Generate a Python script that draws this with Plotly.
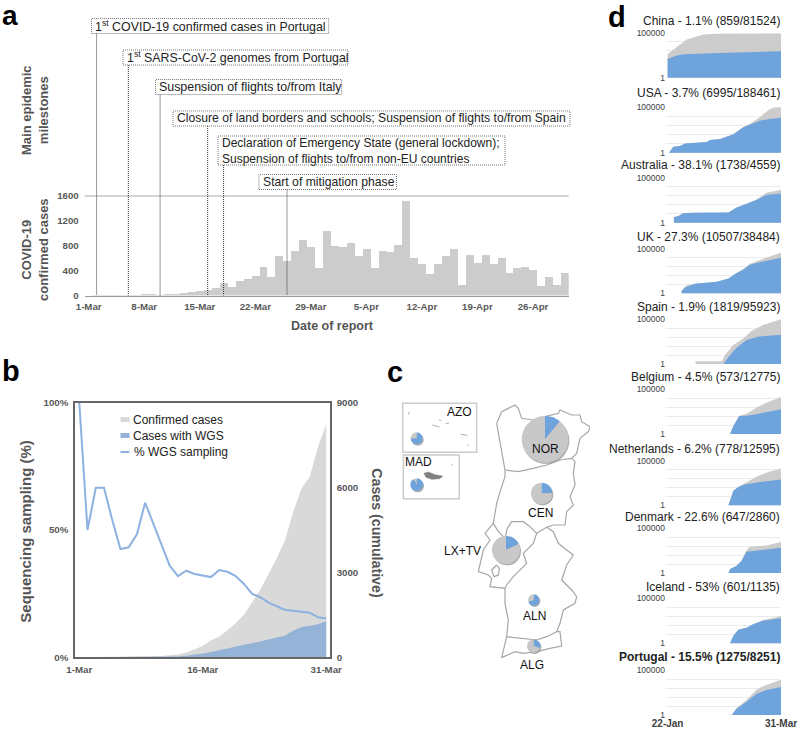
import pandas as pd
import plotly.graph_objects as go

W, H = 800, 729
FONT = "Liberation Sans"

# ---------- panel a ----------
daily_dates = pd.date_range("2020-03-01", "2020-04-30").strftime("%Y-%m-%d").tolist()
daily_cases = [0, 2, 2, 1, 3, 4, 8, 9, 9, 2, 18, 16, 37, 59, 80, 85, 117, 197, 144, 240, 260, 320,
               464, 304, 635, 550, 722, 898, 786, 444, 1032, 802, 775, 845, 636, 749, 449, 711,
               695, 813, 1516, 598, 508, 342, 508, 642, 749, 176, 658, 519, 652, 508, 600, 364,
               438, 465, 406, 155, 294, 176, 364]
a_ticks = ["2020-03-01", "2020-03-08", "2020-03-15", "2020-03-22", "2020-03-29",
           "2020-04-05", "2020-04-12", "2020-04-19", "2020-04-26"]
a_tick_text = ["1-Mar", "8-Mar", "15-Mar", "22-Mar", "29-Mar", "5-Apr", "12-Apr", "19-Apr", "26-Apr"]
milestone_dates = ["2020-03-02", "2020-03-06", "2020-03-10", "2020-03-16", "2020-03-18", "2020-03-26"]
milestone_text = ["1<sup>st</sup> COVID-19 confirmed cases in Portugal",
                  "1<sup>st</sup> SARS-CoV-2 genomes from Portugal",
                  "Suspension of flights to/from Italy",
                  "Closure of land borders and schools; Suspension of flights to/from Spain",
                  "Declaration of Emergency State (general lockdown);<br>Suspension of flights to/from non-EU countries",
                  "Start of mitigation phase"]
milestone_size = [12.4, 12.4, 12.4, 12.15, 12, 12.2]
milestone_box_left = [91.5, 123, 155.5, 173, 218, 259]
milestone_box_right = [328.7, 348, 341.7, 570, 505, 396.5]
milestone_box_top = [18.5, 50, 79.5, 111, 136, 174.5]
milestone_box_bottom = [33.5, 65, 94.5, 126, 165, 189.5]

# ---------- panel b ----------
march_dates = pd.date_range("2020-03-01", "2020-03-31").strftime("%Y-%m-%d").tolist()
confirmed_cum = [0, 2, 4, 5, 8, 13, 21, 30, 39, 41, 50, 70, 100, 170, 280, 400, 600, 730, 960,
                 1200, 1500, 1950, 2400, 2950, 3500, 4150, 5150, 5970, 6385, 7440, 8251]
wgs_cum = [0, 1, 2, 3, 4, 5, 6, 8, 10, 12, 14, 20, 30, 55, 90, 130, 190, 250, 320, 390, 440,
           500, 560, 630, 700, 770, 950, 1075, 1115, 1170, 1275]
wgs_pct = [100, 50, 66.6, 66.6, 54, 42.5, 43.2, 48.3, 60.7, 52.6, 44, 35.9, 31.9, 34, 32.7, 32.2,
           31.5, 34.3, 33.6, 31.9, 28.8, 24.9, 23.6, 21.5, 20.2, 18.6, 18.3, 18, 17.5, 15.7, 15.2]

# ---------- panel c ----------
region_names = ["NOR", "CEN", "LX+TV", "ALN", "ALG", "AZO", "MAD"]
region_blue = [11, 25, 18, 70, 30, 75, 93]
region_grey = [89, 75, 82, 30, 70, 25, 7]
pie_cx = [465, 455, 348, 431, 431, 80, 80]
pie_cy = [148, 310, 480, 630, 768, 145, 284]
pie_r = [70, 32, 42, 17, 20, 18, 19]
label_x = [466, 450, 218, 433, 427, 210, 85]
label_y = [178, 370, 482, 677, 825, 65, 217]
outline_x = [320, 335, 375, 385, 395, 430, 465, 505, 510, 545, 570, 575, 600, 595, 570, 560, 545, 555,
             550, 555, 540, 550, 530, 525, 490, 470, 490, 505, 530, 550, 530, 515, 545, 560, 555, 520,
             510, 500, 510, 515, 480, 440, 400, 375, 335, 345, 350, 355, 345, 345, 300, 305, 295, 265,
             280, 300, 285, 310, 320, 335, 345, 345, 335, 320]
outline_y = [100, 65, 45, 55, 85, 90, 80, 70, 60, 75, 75, 95, 110, 125, 145, 190, 205, 215,
             250, 285, 320, 345, 365, 405, 405, 412, 425, 460, 480, 495, 525, 570, 600, 620, 640, 660,
             700, 725, 725, 768, 775, 785, 790, 785, 803, 765, 740, 690, 640, 595, 590, 565, 555, 545,
             480, 450, 430, 400, 340, 290, 260, 240, 180, 100]
nor_cen_x = [345, 385, 430, 470, 510, 545]
nor_cen_y = [240, 245, 235, 225, 210, 205]
lx_north_x = [310, 325, 345, 352, 365, 400, 420, 440, 430, 400, 410, 370, 350, 345]
lx_north_y = [400, 425, 445, 415, 395, 395, 410, 430, 460, 490, 520, 560, 585, 595]
aln_north_x = [440, 470]
aln_north_y = [430, 412]
alg_north_x = [350, 400, 440, 470, 500]
alg_north_y = [740, 745, 750, 740, 725]
estuary_x = [320, 305, 312, 325, 328, 320]
estuary_y = [525, 540, 560, 555, 535, 525]
madeira_x = [102, 115, 135, 158, 150, 125, 108, 102]
madeira_y = [250, 246, 254, 258, 266, 268, 262, 250]
azores_x = [[55, 58], [127, 148], [147, 153], [167, 177], [212, 232], [231, 236], [184, 190]]
azores_y = [[74, 66], [105, 111], [90, 92], [101, 99], [133, 136], [165, 166], [227, 221]]

# ---------- panel d ----------
china_t_d = [0, 5.5, 11.6, 21.7, 30, 69]
china_t = [427, 2770, 18000, 65000, 78000, 81524]
china_s_d = [0, 4.5, 9.5, 19.7, 32, 69]
china_s = [118, 250, 400, 500, 550, 859]
usa_t_d = [0.8, 3.5, 7.5, 10.6, 23.7, 25.8, 32, 40, 46, 50, 56, 62, 69]
usa_t = [1, 4.6, 5.5, 10, 15, 25, 32, 105, 620, 1450, 8000, 60000, 188461]
usa_s_d = [0.8, 3.5, 7.5, 10.6, 23.7, 25.8, 32, 40, 46, 50, 56, 62, 69]
usa_s = [1, 4.6, 5.5, 10, 15, 25, 32, 105, 620, 1250, 3400, 5150, 6995]
aus_t_d = [3.8, 3.8, 6.5, 9.5, 15.6, 37, 42, 48, 54, 60, 69]
aus_t = [1, 4, 5.5, 11, 13, 14, 50, 118, 380, 2150, 4559]
aus_s_d = [3.8, 3.8, 6.5, 9.5, 15.6, 37, 42, 48, 54, 60, 69]
aus_s = [1, 4, 5.5, 11, 13, 14, 50, 118, 330, 1180, 1738]
uk_t_d = [8.5, 8.5, 11, 16.6, 30, 37, 42, 46, 50, 56, 62, 69]
uk_t = [1, 1.8, 7, 12, 20, 47, 200, 550, 2150, 6000, 14000, 38484]
uk_s_d = [8.5, 8.5, 11, 16.6, 30, 37, 42, 46, 50, 56, 69]
uk_s = [1, 1.8, 5, 12, 20, 47, 200, 470, 1660, 3200, 10507]
spain_t_d = [17, 17, 33, 34.9, 40, 46, 51, 58, 69]
spain_t = [1, 2, 2, 10, 130, 700, 4600, 21000, 95923]
spain_s_d = [34, 37, 42, 48, 55, 69]
spain_s = [1, 6, 63, 470, 1100, 1819]
bel_t_d = [38, 40, 43.6, 48, 54, 60, 69]
bel_t = [1, 7.8, 105, 180, 850, 3000, 12775]
bel_s_d = [38, 40, 43.6, 48, 54, 69]
bel_s = [1, 7.8, 100, 110, 160, 573]
nld_t_d = [37, 38.8, 40, 43, 46, 54, 62, 69]
nld_t = [1, 9, 43, 110, 230, 1550, 6000, 12595]
nld_s_d = [37, 38.8, 40, 43, 46, 54, 62, 69]
nld_s = [1, 9, 43, 110, 200, 360, 600, 778]
dnk_t_d = [37, 38, 42, 45, 48, 50, 60, 69]
dnk_t = [1, 2.8, 6.5, 23, 360, 850, 1180, 2860]
dnk_s_d = [37, 38, 42, 45, 48, 60, 69]
dnk_s = [1, 2.8, 6.5, 23, 235, 390, 647]
isl_t_d = [38, 40, 43, 48, 52, 58, 64, 69]
isl_t = [1, 7, 33, 55, 127, 390, 650, 1135]
isl_s_d = [38, 40, 43, 48, 52, 58, 69]
isl_s = [1, 7, 33, 55, 127, 330, 601]
prt_t_d = [39, 42, 48, 54, 58, 64, 69]
prt_t = [1, 6, 47, 600, 1600, 4000, 8251]
prt_s_d = [39, 42, 48, 54, 60, 69]
prt_s = [1, 5, 30, 215, 600, 1275]

country_titles = ["China - 1.1% (859/81524)", "USA - 3.7% (6995/188461)", "Australia - 38.1% (1738/4559)",
                  "UK - 27.3% (10507/38484)", "Spain - 1.9% (1819/95923)", "Belgium - 4.5% (573/12775)",
                  "Netherlands - 6.2% (778/12595)", "Denmark - 22.6% (647/2860)", "Iceland - 53% (601/1135)",
                  "<b>Portugal - 15.5% (1275/8251)</b>"]
country_total = [(china_t_d, china_t), (usa_t_d, usa_t), (aus_t_d, aus_t), (uk_t_d, uk_t), (spain_t_d, spain_t),
                 (bel_t_d, bel_t), (nld_t_d, nld_t), (dnk_t_d, dnk_t), (isl_t_d, isl_t), (prt_t_d, prt_t)]
country_seq = [(china_s_d, china_s), (usa_s_d, usa_s), (aus_s_d, aus_s), (uk_s_d, uk_s), (spain_s_d, spain_s),
               (bel_s_d, bel_s), (nld_s_d, nld_s), (dnk_s_d, dnk_s), (isl_s_d, isl_s), (prt_s_d, prt_s)]
d_top = [32.7, 107.3, 177.7, 249, 319, 389, 460.7, 528.3, 598.3, 670]
d_bottom = [77.7, 152.7, 222.7, 293.3, 364, 434, 505.3, 573, 643.3, 715]
d_title_y = [20.7, 93, 164.7, 237.3, 307.3, 377, 449, 517, 586.7, 656.7]


def px(x):
    return x / W


def py(y):
    return 1 - y / H


fig = go.Figure()
shapes, notes = [], []
layout = {}


def note(x, y, text, size=12, color="#222", anchor="center", angle=0, vanchor="middle"):
    notes.append(dict(x=px(x), y=py(y), xref="paper", yref="paper", text=text, showarrow=False,
                      xanchor=anchor, yanchor=vanchor, textangle=angle, align="left" if anchor == "left" else "center",
                      font=dict(family=FONT, size=size, color=color)))


TICK_BOLD = dict(family=FONT, size=9.7, color="#595959", weight=700)

# panel a
fig.add_trace(go.Bar(x=daily_dates, y=daily_cases, width=86400000, marker=dict(color="#cccccc", line_width=0),
                     xaxis="x", yaxis="y", showlegend=False))
layout["xaxis"] = dict(domain=[px(84.7), px(568.7)], range=["2020-02-29 12:00", "2020-04-30 12:00"], type="date",
                       tickvals=a_ticks, ticktext=a_tick_text, tickfont=TICK_BOLD, showgrid=False, automargin=False,
                       showline=True, linecolor="#999999", linewidth=1, ticks="", anchor="y", ticklabelstandoff=2)
layout["yaxis"] = dict(domain=[py(295.5), py(196)], range=[0, 1600], tickvals=[0, 400, 800, 1200, 1600], automargin=False,
                       tickfont=TICK_BOLD, showgrid=False, zeroline=False, anchor="x", ticks="", tickformat="d",
                       ticklabelstandoff=5)
shapes.append(dict(type="line", xref="paper", yref="paper", x0=px(84.7), x1=px(568.7), y0=py(196), y1=py(196),
                   line=dict(color="#aaaaaa", width=1)))
for i, d in enumerate(milestone_dates):
    shapes.append(dict(type="line", xref="x", yref="paper", x0=d, x1=d, y0=py(milestone_box_bottom[i]), y1=py(295.5),
                       line=dict(color="#333333", width=1, dash="1px,1px")))
    shapes.append(dict(type="rect", xref="paper", yref="paper", x0=px(milestone_box_left[i]), x1=px(milestone_box_right[i]),
                       y0=py(milestone_box_bottom[i]), y1=py(milestone_box_top[i]),
                       line=dict(color="#777777", width=1, dash="1px,1px")))
    note(milestone_box_left[i] + 1.5, (milestone_box_top[i] + milestone_box_bottom[i]) / 2, milestone_text[i],
         size=milestone_size[i], anchor="left")
note(35, 110, "<b>Main epidemic<br>milestones</b>", 13, "#555555", angle=-90)
note(35, 250, "<b>COVID-19<br>confirmed cases</b>", 13, "#555555", angle=-90)
note(332, 326, "<b>Date of report</b>", 12.5, "#555555")

# panel b
fig.add_trace(go.Scatter(x=march_dates, y=confirmed_cum, mode="lines", line=dict(width=0), fill="tozeroy",
                         fillcolor="#d9d9d9", xaxis="x2", yaxis="y2", showlegend=False, name="Confirmed cases"))
fig.add_trace(go.Scatter(x=march_dates, y=wgs_cum, mode="lines", line=dict(width=0), fill="tozeroy",
                         fillcolor="#95b3d7", xaxis="x2", yaxis="y2", showlegend=False, name="Cases with WGS"))
fig.add_trace(go.Scatter(x=march_dates, y=wgs_pct, mode="lines", line=dict(color="#8db2e0", width=2),
                         xaxis="x2", yaxis="y3", showlegend=False, name="% WGS sampling"))
layout["xaxis2"] = dict(domain=[px(75), px(330)], range=["2020-02-29 11:30", "2020-03-31 11:00"], type="date",
                        tickvals=["2020-03-01", "2020-03-16", "2020-03-31"], ticktext=["1-Mar", "16-Mar", "31-Mar"],
                        tickfont=TICK_BOLD, showgrid=False, showline=True, mirror=True, linecolor="#666666", automargin=False,
                        linewidth=1.5, anchor="y2", ticks="", ticklabelstandoff=2)
layout["yaxis2"] = dict(domain=[py(657.3), py(402.7)], range=[0, 9000], side="right", tickvals=[0, 3000, 6000, 9000],
                        tickfont=TICK_BOLD, showgrid=False, zeroline=False, showline=True, linecolor="#666666", automargin=False,
                        linewidth=1.5, anchor="x2", ticks="", tickformat="d", ticklabelstandoff=3)
layout["yaxis3"] = dict(domain=[py(657.3), py(402.7)], range=[0, 100], side="left", overlaying="y2", tickvals=[0, 50, 100],
                        ticktext=["0%", "50%", "100%"], tickfont=TICK_BOLD, showgrid=False, zeroline=False, automargin=False,
                        showline=True, linecolor="#666666", linewidth=1.5, anchor="x2", ticks="", ticklabelstandoff=3)
note(26, 531.7, "<b>Sequencing sampling (%)</b>", 15, "#555555", angle=-90)
note(376.7, 533, "<b>Cases (cumulative)</b>", 14.2, "#555555", angle=90)
shapes.append(dict(type="rect", xref="paper", yref="paper", x0=px(120.5), x1=px(129.5), y0=py(417), y1=py(422),
                   fillcolor="#d9d9d9", line_width=0))
shapes.append(dict(type="rect", xref="paper", yref="paper", x0=px(120.5), x1=px(129.5), y0=py(433), y1=py(438),
                   fillcolor="#95b3d7", line_width=0))
shapes.append(dict(type="line", xref="paper", yref="paper", x0=px(120.5), x1=px(129.5), y0=py(452), y1=py(452),
                   line=dict(color="#8db2e0", width=2)))
note(131, 420, "Confirmed cases", 12, anchor="left")
note(131, 435.5, "Cases with WGS", 12, anchor="left")
note(132, 452, "% WGS sampling", 12, anchor="left")

# panel c (map drawn on a hidden axis pair measured in crop units)
map_ax = dict(showgrid=False, zeroline=False, showticklabels=False, ticks="", showline=False, automargin=False)
layout["xaxis3"] = dict(domain=[px(390), px(590)], range=[0, 600], anchor="y4", **map_ax)
layout["yaxis4"] = dict(domain=[py(690), py(390)], range=[900, 0], anchor="x3", **map_ax)
map_line = dict(color="#a6a6a6", width=1.2)
for xs, ys in [(outline_x, outline_y), (nor_cen_x, nor_cen_y), (lx_north_x, lx_north_y),
               (aln_north_x, aln_north_y), (alg_north_x, alg_north_y), (estuary_x, estuary_y)]:
    fig.add_trace(go.Scatter(x=xs, y=ys, mode="lines", line=map_line, xaxis="x3", yaxis="y4", showlegend=False))
fig.add_trace(go.Scatter(x=madeira_x, y=madeira_y, mode="lines", line=dict(color="#808080", width=0.5), fill="toself",
                         fillcolor="#808080", xaxis="x3", yaxis="y4", showlegend=False))
for xs, ys in zip(azores_x, azores_y):
    fig.add_trace(go.Scatter(x=xs, y=ys, mode="lines", line=dict(color="#999999", width=0.8), xaxis="x3", yaxis="y4",
                             showlegend=False))
fig.add_trace(go.Scatter(x=[c + 3 for c in pie_cx], y=[c + 4 for c in pie_cy], mode="markers",
                         marker=dict(size=[2 * r / 3 for r in pie_r], color="#8c8c8c", line_width=0),
                         xaxis="x3", yaxis="y4", showlegend=False))
for x0, x1, y0, y1 in [(38, 260, 40, 187), (40, 208, 195, 326)]:
    shapes.append(dict(type="rect", xref="x3", yref="y4", x0=x0, x1=x1, y0=y0, y1=y1,
                       line=dict(color="#cccccc", width=1.5)))
for i, name in enumerate(region_names):
    cx, cy, r = 390 + pie_cx[i] / 3, 390 + pie_cy[i] / 3, pie_r[i] / 3
    fig.add_trace(go.Pie(values=[region_blue[i], region_grey[i]], labels=["WGS", "Other"], sort=False,
                         direction="clockwise", rotation=0, textinfo="none", showlegend=False, hole=0,
                         marker=dict(colors=["#6fa3dc", "#c8c8c8"], line_width=0),
                         domain=dict(x=[px(cx - r), px(cx + r)], y=[py(cy + r), py(cy - r)])))
    note(390 + label_x[i] / 3, 390 + label_y[i] / 3, name, 12, "#111111")

# panel d
for i in range(10):
    xn, yn = f"x{i + 4}", f"y{i + 5}"
    xk, yk = f"xaxis{i + 4}", f"yaxis{i + 5}"
    fig.add_trace(go.Scatter(x=country_total[i][0], y=country_total[i][1], mode="lines", line=dict(width=0),
                             fill="tozeroy", fillcolor="#cccccc", xaxis=xn, yaxis=yn, showlegend=False))
    fig.add_trace(go.Scatter(x=country_seq[i][0], y=country_seq[i][1], mode="lines", line=dict(width=0),
                             fill="tozeroy", fillcolor="#6fa3dc", xaxis=xn, yaxis=yn, showlegend=False))
    last = i == 9
    layout[xk] = dict(domain=[px(666), px(781)], range=[-1, 69], anchor=yn, showgrid=False, zeroline=False, ticks="",
                      showline=False, showticklabels=last, tickvals=[0, 69] if last else [], automargin=False,
                      ticktext=["22-Jan", "31-Mar"] if last else [], ticklabelstandoff=1,
                      tickfont=dict(family=FONT, size=10, color="#404040", weight=700))
    layout[yk] = dict(domain=[py(d_bottom[i]), py(d_top[i])], type="log", range=[0, 5], anchor=xn, automargin=False,
                      tickvals=[1, 100000], ticktext=["1", "100000"],
                      minor=dict(tickvals=[10, 100, 1000, 10000], showgrid=True, gridcolor="#ebebeb", gridwidth=1, ticks=""),
                      gridcolor="#ebebeb", gridwidth=1, showline=False, zeroline=False, ticks="",
                      tickfont=dict(family=FONT, size=8.5, color="#404040"))
    note(781.5, d_title_y[i], country_titles[i], 12, "#222222", anchor="right")

note(0, 15, "<b>a</b>", 28, "#000000", anchor="left")
note(0, 371, "<b>b</b>", 29, "#000000", anchor="left")
note(385, 372, "<b>c</b>", 29, "#000000", anchor="left")
note(606, 17, "<b>d</b>", 29, "#000000", anchor="left")

fig.update_layout(width=W, height=H, autosize=False, margin=dict(l=0, r=0, t=0, b=0), paper_bgcolor="white",
                  plot_bgcolor="rgba(0,0,0,0)", shapes=shapes, annotations=notes, bargap=0,
                  font=dict(family=FONT), **layout)
fig.write_html("out.html", config=dict(displayModeBar=False),
               post_script="document.body.style.margin='0';document.body.style.overflow='hidden';")
